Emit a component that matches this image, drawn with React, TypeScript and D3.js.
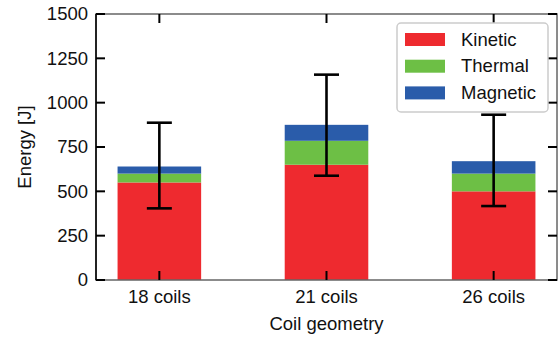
import { useRef, useEffect } from "react";
import * as d3 from "d3";

const categories = ["18 coils", "21 coils", "26 coils"];
const seriesNames = ["Kinetic", "Thermal", "Magnetic"];
const kinetic = [550, 650, 500];
const thermal = [50, 135, 100];
const magnetic = [40, 90, 70];
const errLow = [404, 588, 417];
const errHigh = [887, 1158, 932];
const yTicks = [0, 250, 500, 750, 1000, 1250, 1500];
const colors = ["#ee2a2f", "#6dbf45", "#2a5caa"];

export default function App() {
  const svgRef = useRef(null);

  useEffect(() => {
    document.body.style.margin = "0";
    document.body.style.overflow = "hidden";
    const svg = d3.select(svgRef.current);
    svg.selectAll("*").remove();

    const W = 560, H = 338;
    const left = 96, right = 557, top = 14, bottom = 280;
    const font = "'Liberation Sans', Arial, sans-serif";
    const fs = 18.5;

    const x = d3.scalePoint().domain(categories).range([left, right]).padding(0.379);
    const barW = x.step() * 0.5;
    const y = d3.scaleLinear().domain([0, 1500]).range([bottom, top]);

    svg.attr("width", W).attr("height", H);

    const rows = categories.map((c, i) => ({
      cat: c, Kinetic: kinetic[i], Thermal: thermal[i], Magnetic: magnetic[i],
    }));
    const stack = d3.stack<any>().keys(seriesNames)(rows);

    const g = svg.append("g");
    stack.forEach((layer, si) => {
      g.selectAll(null)
        .data(layer)
        .enter()
        .append("rect")
        .attr("x", (d: any) => (x(d.data.cat) as number) - barW / 2)
        .attr("width", barW)
        .attr("y", (d: any) => y(d[1]))
        .attr("height", (d: any) => y(d[0]) - y(d[1]))
        .attr("fill", colors[si]);
    });

    // frame
    svg.append("rect")
      .attr("x", left).attr("y", top)
      .attr("width", right - left).attr("height", bottom - top)
      .attr("fill", "none").attr("stroke", "#666").attr("stroke-width", 1.5);
    svg.append("line").attr("x1", left).attr("x2", left).attr("y1", top).attr("y2", bottom)
      .attr("stroke", "#000").attr("stroke-width", 1.5);

    // y ticks
    const tl = 9;
    yTicks.forEach((t) => {
      svg.append("line").attr("x1", left).attr("x2", left + tl)
        .attr("y1", y(t)).attr("y2", y(t)).attr("stroke", "#000").attr("stroke-width", 2);
      svg.append("line").attr("x1", right - tl).attr("x2", right)
        .attr("y1", y(t)).attr("y2", y(t)).attr("stroke", "#000").attr("stroke-width", 2);
      svg.append("text").attr("x", left - 8).attr("y", y(t)).attr("dy", "0.35em")
        .attr("text-anchor", "end").attr("font-family", font).attr("font-size", fs)
        .attr("fill", "#111").text(t);
    });

    // x ticks
    categories.forEach((c) => {
      const cx = x(c) as number;
      svg.append("line").attr("x1", cx).attr("x2", cx).attr("y1", bottom).attr("y2", bottom - tl)
        .attr("stroke", "#000").attr("stroke-width", 2);
      svg.append("line").attr("x1", cx).attr("x2", cx).attr("y1", top).attr("y2", top + tl)
        .attr("stroke", "#000").attr("stroke-width", 2);
      svg.append("text").attr("x", cx).attr("y", 303)
        .attr("text-anchor", "middle").attr("font-family", font).attr("font-size", fs)
        .attr("fill", "#111").text(c);
    });

    // error bars
    const cap = 12.5;
    categories.forEach((c, i) => {
      const cx = x(c) as number;
      const eg = svg.append("g").attr("stroke", "#000").attr("stroke-width", 2.6);
      eg.append("line").attr("x1", cx).attr("x2", cx).attr("y1", y(errLow[i])).attr("y2", y(errHigh[i]));
      eg.append("line").attr("x1", cx - cap).attr("x2", cx + cap).attr("y1", y(errLow[i])).attr("y2", y(errLow[i]));
      eg.append("line").attr("x1", cx - cap).attr("x2", cx + cap).attr("y1", y(errHigh[i])).attr("y2", y(errHigh[i]));
    });

    // axis titles
    svg.append("text").attr("x", (left + right) / 2).attr("y", 330)
      .attr("text-anchor", "middle").attr("font-family", font).attr("font-size", fs)
      .attr("fill", "#111").text("Coil geometry");
    svg.append("text")
      .attr("transform", `translate(31,${(top + bottom) / 2}) rotate(-90)`)
      .attr("text-anchor", "middle").attr("font-family", font).attr("font-size", fs)
      .attr("fill", "#111").text("Energy [J]");

    // legend
    const lg = svg.append("g").attr("transform", "translate(397,23)");
    lg.append("rect").attr("width", 151).attr("height", 89).attr("rx", 4)
      .attr("fill", "rgba(255,255,255,0.85)").attr("stroke", "#ccc").attr("stroke-width", 1.5);
    seriesNames.forEach((s, i) => {
      lg.append("rect").attr("x", 8).attr("y", 10 + i * 26.7).attr("width", 40).attr("height", 13)
        .attr("fill", colors[i]);
      lg.append("text").attr("x", 64).attr("y", 22.5 + i * 26.7)
        .attr("font-family", font).attr("font-size", fs).attr("fill", "#111").text(s);
    });
  }, []);

  return <svg ref={svgRef} style={{ display: "block" }}></svg>;
}
